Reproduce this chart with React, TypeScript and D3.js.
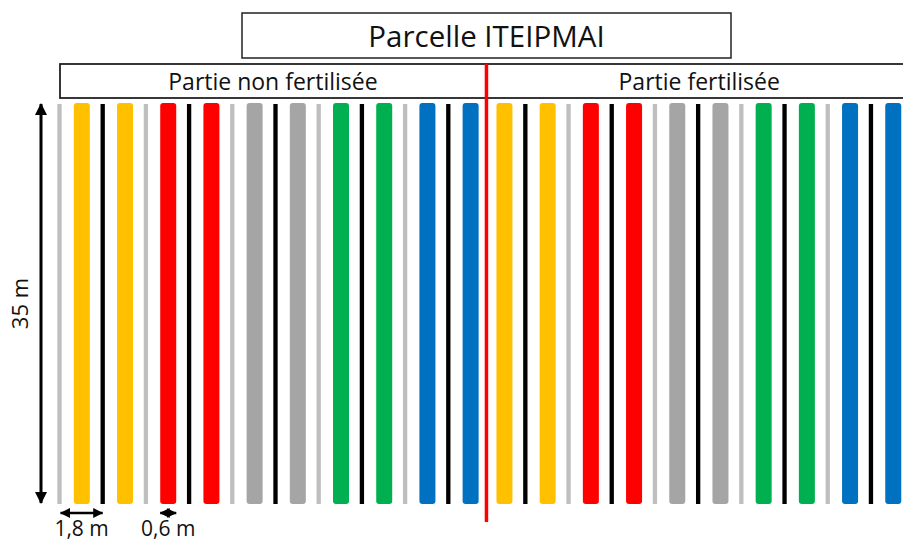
import React, { useRef, useEffect } from "react";
import * as d3 from "d3";

// Plan de la parcelle : bandes de culture (couleurs) séparées par des lignes fines
const title = "Parcelle ITEIPMAI";
const partLabels = ["Partie non fertilisée", "Partie fertilisée"];

const leftStripes = [
  "light", "yellow", "black", "yellow", "light", "red", "black", "red",
  "light", "gray", "black", "gray", "light", "green", "black", "green",
  "light", "blue", "black", "blue",
];
const rightStripes = [
  "yellow", "black", "yellow", "light", "red", "black", "red", "light",
  "gray", "black", "gray", "light", "green", "black", "green", "light",
  "blue", "black", "blue",
];

// distances en mètres
const plotLength = 35;
const lineToBar = 0.93;
const barToLine = 0.87;
const leftStart = 0;
const dividerAt = 17.79;
const rightStart = 18.54;
const barWidth = 0.667;
const lineWidth = 0.18;
const dimLabels = ["1,8 m", "0,6 m"];
const lengthLabel = "35 m";

const colors: Record<string, string> = {
  light: "#BFBFBF",
  black: "#000000",
  yellow: "#FFC000",
  red: "#FF0000",
  gray: "#A5A5A5",
  green: "#00B050",
  blue: "#0070C0",
};

const isLine = (s: string) => s === "light" || s === "black";

const place = (stripes: string[], start: number) => {
  const out: { kind: string; pos: number }[] = [];
  let pos = start;
  stripes.forEach((s, i) => {
    if (i > 0) pos += isLine(s) ? barToLine : lineToBar;
    out.push({ kind: s, pos });
  });
  return out;
};

const App: React.FC = () => {
  const svgRef = useRef<SVGSVGElement | null>(null);
  const width = 903;
  const height = 542;

  useEffect(() => {
    if (!svgRef.current) return;
    const svg = d3.select(svgRef.current);
    svg.selectAll("*").remove();

    const font = "'Open Sans', 'Noto Sans', sans-serif";

    const x = d3.scaleLinear().domain([0, plotLength]).range([59.5, 59.5 + plotLength * 24]);
    const y = d3.scaleLinear().domain([0, plotLength]).range([103, 504]);

    const stripes = [...place(leftStripes, leftStart), ...place(rightStripes, rightStart)];

    // Bandes
    svg
      .append("g")
      .selectAll("rect")
      .data(stripes)
      .enter()
      .append("rect")
      .attr("x", (d) => x(d.pos) - (x(isLine(d.kind) ? lineWidth : barWidth) - x(0)) / 2)
      .attr("y", (d) => y(0) + (isLine(d.kind) ? 1 : 0))
      .attr("width", (d) => x(isLine(d.kind) ? lineWidth : barWidth) - x(0))
      .attr("height", (d) => y(plotLength) - y(0) - (isLine(d.kind) ? 1 : 0))
      .attr("rx", (d) => (isLine(d.kind) ? 0 : 3))
      .attr("fill", (d) => colors[d.kind]);

    // Titre
    svg
      .append("rect")
      .attr("x", 242)
      .attr("y", 13)
      .attr("width", 489)
      .attr("height", 45)
      .attr("fill", "white")
      .attr("stroke", "#222")
      .attr("stroke-width", 1.5);
    svg
      .append("text")
      .attr("x", (242 + 731) / 2)
      .attr("y", 46.5)
      .attr("text-anchor", "middle")
      .attr("font-family", font)
      .attr("font-size", 29.5)
      .attr("fill", "#111")
      .text(title);

    // En-tête des deux parties
    svg
      .append("rect")
      .attr("x", 60)
      .attr("y", 64)
      .attr("width", 860)
      .attr("height", 34)
      .attr("fill", "white")
      .attr("stroke", "#222")
      .attr("stroke-width", 1.8);

    const partCenters = [(x(leftStart) + x(dividerAt)) / 2, (x(dividerAt) + 912) / 2];
    svg
      .selectAll(".part")
      .data(partLabels)
      .enter()
      .append("text")
      .attr("x", (_, i) => partCenters[i])
      .attr("y", 90)
      .attr("text-anchor", "middle")
      .attr("font-family", font)
      .attr("font-size", 23)
      .attr("fill", "#111")
      .text((d) => d);

    // Séparation rouge
    svg
      .append("line")
      .attr("x1", x(dividerAt))
      .attr("x2", x(dividerAt))
      .attr("y1", 64)
      .attr("y2", 522)
      .attr("stroke", "#FF0000")
      .attr("stroke-width", 3.5);

    // Flèches
    const defs = svg.append("defs");
    defs
      .append("marker")
      .attr("id", "headBig")
      .attr("viewBox", "0 0 12 12")
      .attr("refX", 11)
      .attr("refY", 6)
      .attr("markerWidth", 12)
      .attr("markerHeight", 12)
      .attr("markerUnits", "userSpaceOnUse")
      .attr("orient", "auto-start-reverse")
      .append("path")
      .attr("d", "M0,0 L12,6 L0,12 Z")
      .attr("fill", "black");
    defs
      .append("marker")
      .attr("id", "headSmall")
      .attr("viewBox", "0 0 10 10")
      .attr("refX", 9.5)
      .attr("refY", 5)
      .attr("markerWidth", 10)
      .attr("markerHeight", 10)
      .attr("markerUnits", "userSpaceOnUse")
      .attr("orient", "auto-start-reverse")
      .append("path")
      .attr("d", "M0,0 L10,5 L0,10 Z")
      .attr("fill", "black");

    svg
      .append("line")
      .attr("x1", 41)
      .attr("x2", 41)
      .attr("y1", y(0) + 1)
      .attr("y2", y(plotLength) - 1)
      .attr("stroke", "black")
      .attr("stroke-width", 3)
      .attr("marker-start", "url(#headBig)")
      .attr("marker-end", "url(#headBig)");

    svg
      .append("text")
      .attr("transform", `translate(28,${(y(0) + y(plotLength)) / 2}) rotate(-90)`)
      .attr("text-anchor", "middle")
      .attr("font-family", font)
      .attr("font-size", 22)
      .attr("fill", "#111")
      .text(lengthLabel);

    // Cotes en bas
    const firstRed = stripes.find((s) => s.kind === "red")!;
    const dims = [
      { from: x(leftStart) + 1, to: x(leftStart + lineToBar + barToLine) },
      {
        from: x(firstRed.pos) - (x(barWidth) - x(0)) / 2,
        to: x(firstRed.pos) + (x(barWidth) - x(0)) / 2,
      },
    ];
    dims.forEach((d, i) => {
      svg
        .append("line")
        .attr("x1", d.from)
        .attr("x2", d.to)
        .attr("y1", 513)
        .attr("y2", 513)
        .attr("stroke", "black")
        .attr("stroke-width", 2.5)
        .attr("marker-start", "url(#headSmall)")
        .attr("marker-end", "url(#headSmall)");
      svg
        .append("text")
        .attr("x", (d.from + d.to) / 2)
        .attr("y", 536)
        .attr("text-anchor", "middle")
        .attr("font-family", font)
        .attr("font-size", 21)
        .attr("fill", "#111")
        .text(dimLabels[i]);
    });
  }, []);

  return (
    <svg
      ref={svgRef}
      width={width}
      height={height}
      style={{ position: "absolute", left: 0, top: 0, background: "white" }}
    ></svg>
  );
};

export default App;
